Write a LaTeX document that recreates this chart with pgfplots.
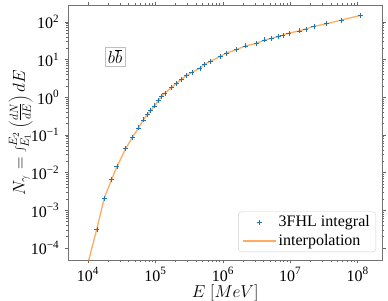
\documentclass[border=0pt]{standalone}
\usepackage{fontspec}
\setmainfont{Liberation Serif}
\usepackage{pgfplots}
\pgfplotsset{compat=1.18}
\definecolor{tabblue}{HTML}{1F77B4}
\definecolor{taborange}{HTML}{FF7F0E}
\newcommand{\tenpow}[1]{\pgfmathparse{int(round(#1/2.302585093))}10\textsuperscript{\ifnum\pgfmathresult<0 \textminus\the\numexpr-\pgfmathresult\relax\else\pgfmathresult\fi}}
\pgfplotsset{
  markleg/.style={legend image code/.code={\draw[##1] plot coordinates {(16.5pt,0pt)};\path (0pt,0pt) (33pt,0pt);}},
  lineleg/.style={legend image code/.code={\draw[##1] (0pt,0pt) -- (33pt,0pt);}},
}
\begin{document}
\fontsize{16}{19}\selectfont
\begin{tikzpicture}
\useasboundingbox (-68.3pt,-40pt) rectangle (319.7pt,260pt);
\begin{axis}[
  name=ax, at={(0,0)}, anchor=south west,
  scale only axis, width=313.7pt, height=254.7pt,
  xmode=log, ymode=log,
  xmin=5.1e3, xmax=2.3e8,
  ymin=4.8e-5, ymax=275,
  axis line style={black!55, line width=0.6pt},
  tick style={black!60, line width=0.5pt},
  tick align=outside,
  major tick length=3.5pt, minor tick length=2pt,
  xtick={1e4,1e5,1e6,1e7,1e8},
  ytick={1e-4,1e-3,1e-2,1e-1,1,1e1,1e2},
  xticklabel={\tenpow{\tick}},
  yticklabel={\tenpow{\tick}},
  ticklabel style={font=\fontsize{16}{19}\selectfont},
  xticklabel style={yshift=1.5pt},
  xlabel={$E\;[MeV]$},
  ylabel={$N_\gamma = \int_{E_1}^{E_2}\left(\frac{dN}{dE}\right)dE$},
  every axis x label/.style={at={(axis description cs:0.5,-0.13)}, anchor=center, font=\fontsize{16}{19}\selectfont},
  every axis y label/.style={at={(axis description cs:-0.152,0.5)}, anchor=center, rotate=90, font=\fontsize{18}{21}\selectfont},
  legend cell align=left,
  legend style={at={(1,0)}, anchor=south east, xshift=-6pt, yshift=8pt,
    draw=black!18, rounded corners=3pt, fill=white,
    font=\fontsize{16}{19}\selectfont,
    inner xsep=4pt, inner ysep=2pt, row sep=1pt},
]
\addplot[only marks, mark=+, mark size=2.5pt, tabblue, line width=0.5pt, markleg]
coordinates {
(1.35e4,3.16e-4) (1.74e4,2.09e-3) (2.24e4,6.61e-3) (2.69e4,1.45e-2)
(3.63e4,4.37e-2) (4.57e4,8.71e-2) (5.62e4,0.155) (6.61e4,0.251)
(7.59e4,0.347) (8.51e4,0.447) (9.77e4,0.589) (1.10e5,0.813)
(1.23e5,1.05) (1.38e5,1.29) (1.74e5,1.82) (2.04e5,2.34)
(2.45e5,3.02) (2.88e5,3.72) (3.47e5,4.57) (4.57e5,5.89)
(5.37e5,7.59) (6.46e5,8.91) (9.12e5,12.0) (1.12e6,14.8)
(1.58e6,18.2) (2.14e6,22.9) (3.16e6,26.9) (4.17e6,33.1)
(5.25e6,36.3) (6.61e6,40.7) (7.76e6,44.7) (9.55e6,50.1)
(1.35e7,57.5) (1.70e7,64.6) (2.24e7,75.9) (3.47e7,89.1)
(5.75e7,112) (1.10e8,148)
};
\addlegendentry{3FHL integral}
\addplot[taborange, opacity=0.65, line width=1.3pt, no marks, lineleg]
coordinates {
(9.8e3,3.5e-5)
(1.35e4,3.16e-4) (1.74e4,2.09e-3) (2.24e4,6.61e-3) (2.69e4,1.45e-2)
(3.63e4,4.37e-2) (4.57e4,8.71e-2) (5.62e4,0.155) (6.61e4,0.251)
(7.59e4,0.347) (8.51e4,0.447) (9.77e4,0.589) (1.10e5,0.813)
(1.23e5,1.05) (1.38e5,1.29) (1.74e5,1.82) (2.04e5,2.34)
(2.45e5,3.02) (2.88e5,3.72) (3.47e5,4.57) (4.57e5,5.89)
(5.37e5,7.59) (6.46e5,8.91) (9.12e5,12.0) (1.12e6,14.8)
(1.58e6,18.2) (2.14e6,22.9) (3.16e6,26.9) (4.17e6,33.1)
(5.25e6,36.3) (6.61e6,40.7) (7.76e6,44.7) (9.55e6,50.1)
(1.35e7,57.5) (1.70e7,64.6) (2.24e7,75.9) (3.47e7,89.1)
(5.75e7,112) (1.10e8,148)
};
\addlegendentry{interpolation}
\node[draw=black!25, fill=white, inner sep=2.5pt, font=\fontsize{16}{19}\selectfont]
  at (rel axis cs:0.149,0.80) {$b\overline{b}$};
\end{axis}
\end{tikzpicture}
\end{document}
